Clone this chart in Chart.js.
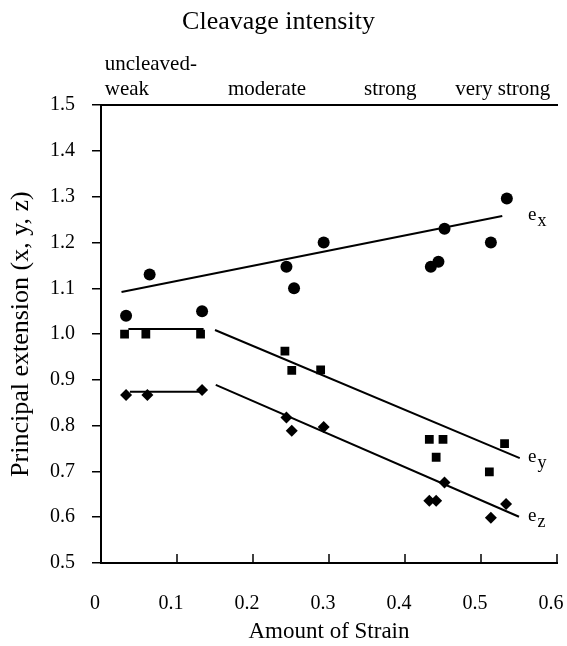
<!DOCTYPE html>
<html>
<head>
<meta charset="utf-8">
<script src="https://cdn.jsdelivr.net/npm/chart.js@4.4.1/dist/chart.umd.min.js"></script>
<style>
  html, body { margin: 0; padding: 0; background: #fff; }
  #wrap { width: 567px; height: 646px; }
</style>
</head>
<body>
<div id="wrap"><canvas id="strainChart"></canvas></div>
<script>
// measured principal extensions against amount of strain
var exX = [0.033, 0.064, 0.133, 0.244, 0.254, 0.293, 0.434, 0.444, 0.452, 0.513, 0.534];
var exY = [1.04, 1.13, 1.05, 1.147, 1.10, 1.20, 1.147, 1.158, 1.23, 1.20, 1.296];
var eyX = [0.031, 0.059, 0.131, 0.242, 0.251, 0.289, 0.432, 0.450, 0.441, 0.511, 0.531];
var eyY = [1.00, 1.00, 1.00, 0.963, 0.921, 0.922, 0.770, 0.770, 0.731, 0.699, 0.761];
var ezX = [0.033, 0.061, 0.133, 0.244, 0.251, 0.293, 0.452, 0.432, 0.441, 0.513, 0.533];
var ezY = [0.867, 0.867, 0.878, 0.818, 0.789, 0.797, 0.676, 0.636, 0.636, 0.599, 0.629];

// fitted trend lines (end points)
var exFitX = [0.027, 0.528];
var exFitY = [1.092, 1.258];
var eyFlatX = [0.036, 0.135];
var eyFlatY = [1.011, 1.011];
var eySlopeX = [0.150, 0.551];
var eySlopeY = [1.009, 0.729];
var ezFlatX = [0.038, 0.130];
var ezFlatY = [0.874, 0.874];
var ezSlopeX = [0.151, 0.550];
var ezSlopeY = [0.889, 0.601];

var xTickLabels = ['0', '0.1', '0.2', '0.3', '0.4', '0.5', '0.6'];
var yTickLabels = ['0.5', '0.6', '0.7', '0.8', '0.9', '1.0', '1.1', '1.2', '1.3', '1.4', '1.5'];

// cleavage intensity classes along the top, with the strain where each label starts
var cleavageLabels = [['uncleaved-', 'weak'], ['moderate'], ['strong'], ['very strong']];
var cleavageStart = [0.005, 0.167, 0.346, 0.466];

var fitNames = ['x', 'y', 'z'];
var fitNameY = [exFitY[1], eySlopeY[1], ezSlopeY[1]];
var fitNameX = 0.562;

var serif = '"Liberation Serif", "Times New Roman", serif';
Chart.defaults.font.family = serif;
Chart.defaults.color = '#000';

function pts(xs, ys) {
    return xs.map(function (v, i) { return { x: v, y: ys[i] }; });
}

function fitLine(xs, ys) {
    return {
        type: 'line',
        data: pts(xs, ys),
        borderColor: '#000',
        borderWidth: 2,
        pointRadius: 0,
        fill: false,
        xAxisID: 'x',
        yAxisID: 'y'
    };
}

function marks(xs, ys, style, r) {
    return {
        data: pts(xs, ys),
        pointStyle: style,
        pointRadius: r,
        backgroundColor: '#000',
        borderWidth: 0,
        xAxisID: 'x',
        yAxisID: 'y'
    };
}

var annotate = {
    id: 'annotate',
    afterDraw: function (chart) {
        var ctx = chart.ctx;
        var xs = chart.scales.x;
        var ys = chart.scales.y;
        var area = chart.chartArea;
        ctx.save();

        // tick marks on the strain axis point inwards
        ctx.strokeStyle = '#000';
        ctx.lineWidth = 1.5;
        xs.ticks.forEach(function (t) {
            var px = xs.getPixelForValue(t.value);
            ctx.beginPath();
            ctx.moveTo(px, area.bottom);
            ctx.lineTo(px, area.bottom - 9);
            ctx.stroke();
        });

        ctx.fillStyle = '#000';
        ctx.textAlign = 'left';
        ctx.textBaseline = 'alphabetic';
        ctx.font = '21px ' + serif;
        cleavageLabels.forEach(function (lines, i) {
            var px = xs.getPixelForValue(cleavageStart[i]);
            for (var k = 0; k < lines.length; k++) {
                var base = area.top - 10 - (lines.length - 1 - k) * 25;
                ctx.fillText(lines[k], px, base);
            }
        });

        // e_x, e_y, e_z at the line ends
        fitNames.forEach(function (n, i) {
            var px = xs.getPixelForValue(fitNameX);
            var py = ys.getPixelForValue(fitNameY[i]) + 4;
            ctx.font = '19px ' + serif;
            ctx.fillText('e', px, py);
            var w = ctx.measureText('e').width;
            ctx.font = '18px ' + serif;
            ctx.fillText(n, px + w + 1, py + 6);
        });
        ctx.restore();
    }
};

new Chart(document.getElementById('strainChart'), {
    type: 'scatter',
    data: {
        datasets: [
            fitLine(exFitX, exFitY),
            fitLine(eyFlatX, eyFlatY),
            fitLine(eySlopeX, eySlopeY),
            fitLine(ezFlatX, ezFlatY),
            fitLine(ezSlopeX, ezSlopeY),
            marks(exX, exY, 'circle', 6),
            marks(eyX, eyY, 'rect', 6.2),
            marks(ezX, ezY, 'rectRot', 6)
        ]
    },
    options: {
        responsive: true,
        maintainAspectRatio: false,
        animation: false,
        events: [],
        layout: { padding: { left: 0, right: 10, top: 0, bottom: 0 } },
        plugins: {
            legend: { display: false },
            tooltip: { enabled: false },
            title: {
                display: true,
                text: 'Cleavage intensity',
                color: '#000',
                font: { size: 26, weight: 'normal' },
                padding: { top: 7, bottom: 0 }
            }
        },
        scales: {
            x: {
                type: 'linear',
                position: 'bottom',
                min: 0,
                max: 0.6,
                ticks: {
                    stepSize: 0.1,
                    padding: 2,
                    labelOffset: -6,
                    font: { size: 20 },
                    callback: function (v, i) { return xTickLabels[i]; }
                },
                grid: { display: false, drawTicks: true, tickLength: 27 },
                border: { color: '#000', width: 2 },
                title: {
                    display: true,
                    text: 'Amount of Strain',
                    font: { size: 23 },
                    padding: { top: 0, bottom: 0 }
                },
                afterFit: function (s) {
                    s.height = 83;
                    s.paddingRight = 10;
                }
            },
            x2: {
                type: 'linear',
                position: 'top',
                min: 0,
                max: 0.6,
                ticks: { display: false },
                grid: { display: false, drawTicks: false },
                border: { color: '#000', width: 2 },
                afterFit: function (s) { s.height = 67; }
            },
            y: {
                min: 0.5,
                max: 1.5,
                ticks: {
                    stepSize: 0.1,
                    padding: 17,
                    font: { size: 20 },
                    callback: function (v, i) { return yTickLabels[i]; }
                },
                grid: { drawOnChartArea: false, tickLength: 9, color: '#000', lineWidth: 1.5 },
                border: { color: '#000', width: 2 },
                title: {
                    display: true,
                    text: 'Principal extension (x, y, z)',
                    font: { size: 26 },
                    padding: { top: 6, bottom: 0 }
                },
                afterFit: function (s) { s.width = 101; }
            }
        }
    },
    plugins: [annotate]
});
</script>
</body>
</html>
